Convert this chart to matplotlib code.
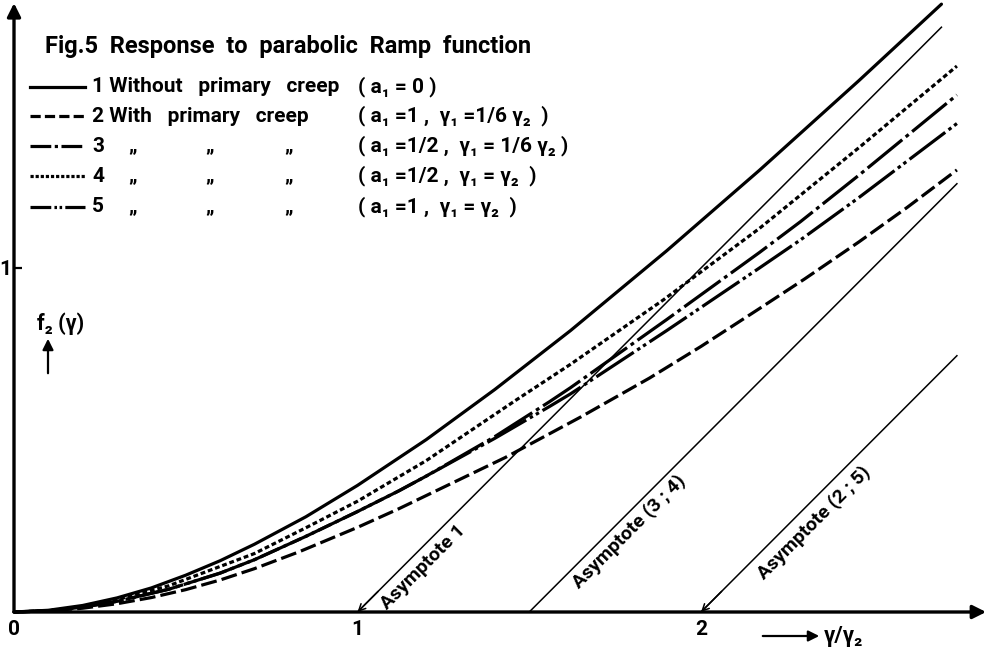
import matplotlib.pyplot as plt
from matplotlib.lines import Line2D
from matplotlib.patches import FancyArrowPatch

# values (x = gamma/gamma2, y = f2(gamma))
x_c1 = [0, 0.1, 0.2, 0.3, 0.4, 0.5, 0.6, 0.7, 0.85, 1.0, 1.2, 1.4, 1.62, 1.9, 2.17, 2.46, 2.70]
y_c1 = [0, 0.005, 0.019, 0.041, 0.070, 0.107, 0.149, 0.197, 0.277, 0.368, 0.501, 0.647, 0.818, 1.05, 1.284, 1.545, 1.767]

x_c2 = [0, 0.1, 0.2, 0.3, 0.4, 0.5, 0.6, 0.7, 0.83, 1.0, 1.12, 1.43, 1.65, 1.85, 2.0, 2.17, 2.3, 2.46, 2.6, 2.745]
y_c2 = [0, 0.003, 0.011, 0.024, 0.042, 0.065, 0.093, 0.126, 0.175, 0.246, 0.30, 0.449, 0.567, 0.68, 0.772,
        0.882, 0.967, 1.076, 1.176, 1.285]

x_c3 = [0, 0.1, 0.2, 0.3, 0.45, 0.6, 0.7, 0.85, 1.0, 1.12, 1.2, 1.4, 1.56, 1.62, 1.9, 2.17, 2.29, 2.46, 2.745]
y_c3 = [0, 0.0035, 0.014, 0.031, 0.066, 0.113, 0.152, 0.22, 0.292, 0.352, 0.395, 0.51, 0.612, 0.652, 0.85,
        1.045, 1.135, 1.27, 1.503]

x_c4 = [0, 0.1, 0.2, 0.3, 0.45, 0.7, 0.85, 1.0, 1.2, 1.46, 1.62, 1.89, 2.17, 2.46, 2.745]
y_c4 = [0, 0.004, 0.016, 0.036, 0.076, 0.17, 0.245, 0.322, 0.44, 0.615, 0.72, 0.907, 1.115, 1.35, 1.587]

x_c5 = [0, 0.1, 0.2, 0.3, 0.45, 0.6, 0.7, 0.85, 1.0, 1.12, 1.2, 1.4, 1.56, 1.62, 1.9, 2.17, 2.29, 2.46, 2.745]
y_c5 = [0, 0.0035, 0.014, 0.031, 0.066, 0.113, 0.152, 0.22, 0.292, 0.352, 0.395, 0.505, 0.598, 0.634, 0.818,
        1.0, 1.082, 1.205, 1.42]

# asymptotes (start on the x axis, end point)
asym_x = [[1.0, 2.70], [1.5, 2.745], [2.0, 2.745]]
asym_y = [[0.0, 1.70], [0.0, 1.245], [0.0, 0.745]]
asym_labels = ["Asymptote 1", "Asymptote (3 ; 4)", "Asymptote (2 ; 5)"]

legend_names = ["1 Without   primary   creep", "2 With   primary   creep", "3", "4", "5"]
legend_params = ["( a\u2081 = 0 )",
                 "( a\u2081 =1 ,  \u03b3\u2081 =1/6 \u03b3\u2082  )",
                 "( a\u2081 =1/2 ,  \u03b3\u2081 = 1/6 \u03b3\u2082 )",
                 "( a\u2081 =1/2 ,  \u03b3\u2081 = \u03b3\u2082  )",
                 "( a\u2081 =1 ,  \u03b3\u2081 = \u03b3\u2082  )"]

FONT = ['Roboto', 'DejaVu Sans']
plt.rcParams['font.family'] = FONT
plt.rcParams['font.weight'] = 'bold'

W, H = 990, 654
fig = plt.figure(figsize=(W / 100, H / 100), dpi=100)
XMAX, YMAX = 2.83, 1.77
ax = fig.add_axes([14 / W, (H - 612) / H, XMAX * 343.5 / W, YMAX * 344 / H])
ax.set_xlim(0, XMAX)
ax.set_ylim(0, YMAX)
for s in ax.spines.values():
    s.set_visible(False)

LW = 2.3
styles = [
    '-',
    (0, (5, 1.6)),
    (0, (14, 1.4, 1.2, 1.4)),
    (0, (1.5, 0.9)),
    (0, (14, 1.3, 1.1, 1.1, 1.1, 1.3)),
]
curves = [(x_c1, y_c1), (x_c2, y_c2), (x_c3, y_c3), (x_c4, y_c4), (x_c5, y_c5)]
for (xs, ys), ls in zip(curves, styles):
    ax.plot(xs, ys, color='black', lw=LW, ls=ls, solid_capstyle='round',
            dash_capstyle='butt', clip_on=False)

for xs, ys in zip(asym_x, asym_y):
    ax.plot(xs, ys, color='black', lw=1.1)
# small arrowheads where asymptotes 1 and (2;5) meet the axis
for i in (0, 2):
    x0 = asym_x[i][0]
    ax.annotate('', xy=(x0, 0.0), xytext=(x0 + 0.06, 0.06),
                arrowprops=dict(arrowstyle='->', lw=1.1, color='black',
                                mutation_scale=12, shrinkA=0, shrinkB=0))

label_pos = [(1.19, 0.13), (1.79, 0.235), (2.33, 0.26)]
for (lx, ly), txt in zip(label_pos, asym_labels):
    ax.text(lx, ly, txt, rotation=45, rotation_mode='anchor', ha='center',
            va='center', fontsize=14, fontweight='bold')

# axes with arrows
ax.annotate('', xy=(0, YMAX), xytext=(0, 0),
            arrowprops=dict(arrowstyle='-|>', lw=2.4, color='black',
                            mutation_scale=20, shrinkA=0, shrinkB=0))
ax.annotate('', xy=(XMAX, 0), xytext=(0, 0),
            arrowprops=dict(arrowstyle='-|>', lw=2.4, color='black',
                            mutation_scale=20, shrinkA=0, shrinkB=0))

ax.set_xticks([0, 1, 2])
ax.set_xticklabels(['0', '1', '2'])
ax.set_yticks([1])
ax.set_yticklabels(['1'])
ax.tick_params(axis='x', length=0, pad=6, labelsize=15)
ax.tick_params(axis='y', direction='in', length=6, width=1.6, pad=2, labelsize=15)
for t in ax.get_xticklabels() + ax.get_yticklabels():
    t.set_fontweight('bold')


def fx(px):
    return px / W


def fy(py):
    return 1 - py / H


# title
fig.text(fx(45), fy(47), "Fig.5  Response  to  parabolic  Ramp  function",
         fontsize=17, fontweight='bold', va='center', ha='left')

# legend block
rows_y = [87, 116, 146, 176, 207]
leg_styles = [
    '-',
    (0, (3.2, 1.3)),
    (0, (6.5, 1.1, 1.0, 1.1)),
    (0, (1.0, 0.6)),
    (0, (6.5, 1.0, 0.8, 0.8, 0.8, 1.0)),
]
LEG_FS = 15
for i, ry in enumerate(rows_y):
    fig.add_artist(Line2D([fx(30), fx(85)], [fy(ry), fy(ry)], color='black',
                          lw=LW, ls=leg_styles[i], transform=fig.transFigure))
    fig.text(fx(92), fy(ry), legend_names[i], fontsize=LEG_FS, fontweight='bold',
             va='center', ha='left')
    if i >= 2:
        for qx in (128, 205, 284):
            fig.text(fx(qx), fy(ry), "\u201e", fontsize=LEG_FS, fontweight='bold',
                     va='center', ha='left')
    fig.text(fx(358), fy(ry), legend_params[i], fontsize=LEG_FS, fontweight='bold',
             va='center', ha='left')

# y-axis label with arrow
fig.text(fx(37), fy(324), "f\u2082 (\u03b3)", fontsize=15.5, fontweight='bold',
         va='center', ha='left')
fig.add_artist(FancyArrowPatch(
    (fx(48), fy(376)), (fx(48), fy(336)), transform=fig.transFigure,
    arrowstyle='-|>', mutation_scale=16, lw=1.6, color='black'))

# x-axis label with arrow
fig.add_artist(FancyArrowPatch(
    (fx(760), fy(636)), (fx(822), fy(636)), transform=fig.transFigure,
    arrowstyle='-|>', mutation_scale=16, lw=1.6, color='black'))
fig.text(fx(824), fy(636), "\u03b3/\u03b3\u2082", fontsize=16, fontweight='bold',
         va='center', ha='left')

fig.savefig('out.png', dpi=100)
